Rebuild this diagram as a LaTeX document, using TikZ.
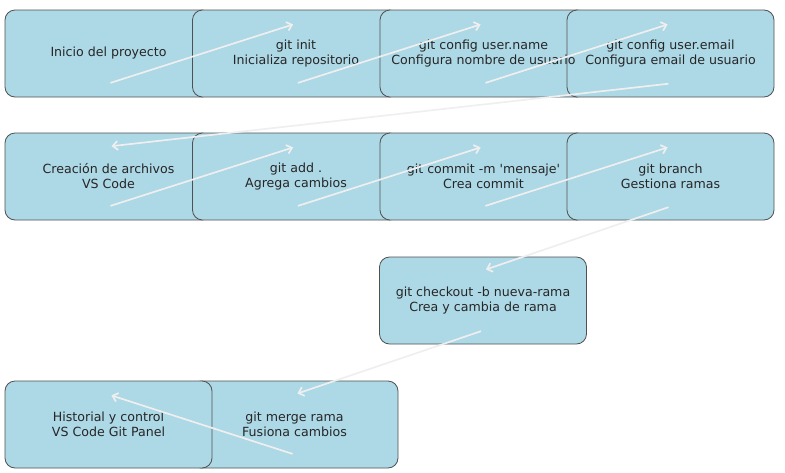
\documentclass[tikz,border=0pt]{standalone}
\usepackage{fontspec}
\setmainfont{DejaVu Sans}
\usetikzlibrary{arrows.meta}
\definecolor{boxfill}{HTML}{ADD8E6}
\definecolor{boxedge}{HTML}{505050}
\definecolor{arrowcol}{HTML}{EFEFEF}
\definecolor{txtcol}{HTML}{262626}
\tikzset{
  stepbox/.style={rectangle, rounded corners=10pt, fill=boxfill, draw=boxedge, line width=0.8pt,
    minimum width=207pt, minimum height=87pt, inner sep=0pt},
  steptext/.style={align=center, text=txtcol, font=\fontsize{12.6pt}{15pt}\selectfont, inner sep=0pt},
  flow/.style={draw=arrowcol, line width=1.7pt, -{Straight Barb[length=5pt,width=9pt]},
    shorten <=2pt, shorten >=3pt}
}
\begin{document}
\begin{tikzpicture}[x=1pt,y=-1pt]
\useasboundingbox (0,0) rectangle (785,472);
% boxes
\node[stepbox] (b1) at (108.5,53.5) {};
\node[stepbox] (b2) at (296,53.5) {};
\node[stepbox] (b3) at (483.5,53.5) {};
\node[stepbox] (b4) at (670.5,53.5) {};
\node[stepbox] (b5) at (108.5,176.5) {};
\node[stepbox] (b6) at (296,176.5) {};
\node[stepbox] (b7) at (483.5,176.5) {};
\node[stepbox] (b8) at (670.5,176.5) {};
\node[stepbox] (b9) at (483,300.5) {};
\node[stepbox] (b10) at (294.5,424.5) {};
\node[stepbox] (b11) at (108.5,424.5) {};
% texts
\node[steptext] (t1) at (b1.center) {Inicio del proyecto};
\node[steptext] (t2) at (b2.center) {git init\\Inicializa repositorio};
\node[steptext] (t3) at (b3.center) {git config user.name\\Configura nombre de usuario};
\node[steptext] (t4) at (b4.center) {git config user.email\\Configura email de usuario};
\node[steptext] (t5) at (b5.center) {Creación de archivos\\VS Code};
\node[steptext] (t6) at (b6.center) {git add .\\Agrega cambios};
\node[steptext] (t7) at (b7.center) {git commit -m \textquotesingle mensaje\textquotesingle\\Crea commit};
\node[steptext] (t8) at (b8.center) {git branch\\Gestiona ramas};
\node[steptext] (t9) at (b9.center) {git checkout -b nueva-rama\\Crea y cambia de rama};
\node[steptext] (t10) at (b10.center) {git merge rama\\Fusiona cambios};
\node[steptext] (t11) at (b11.center) {Historial y control\\VS Code Git Panel};
% arrows
\foreach \a/\b in {b1/b2,b2/b3,b3/b4,b4/b5,b5/b6,b6/b7,b7/b8,b8/b9,b9/b10,b10/b11}{
  \draw[flow] ([yshift=-30pt]\a.center) -- ([yshift=30pt]\b.center);
}
\end{tikzpicture}
\end{document}
